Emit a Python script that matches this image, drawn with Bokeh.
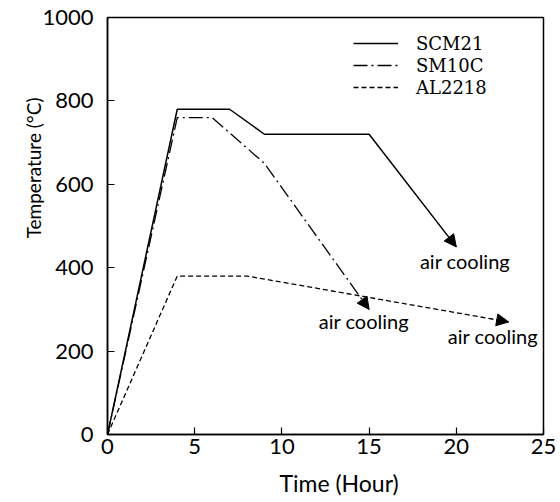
from bokeh.plotting import figure
from bokeh.models import Range1d, Legend, LegendItem, Arrow, NormalHead, Label, FixedTicker, Title
from bokeh.embed import file_html
from bokeh.resources import INLINE

# data (time in hours, temperature in deg C); last point of each = end of air-cooling arrow
scm21_t = [0, 4, 7, 9, 15, 20]
scm21_T = [0, 780, 780, 720, 720, 450]
sm10c_t = [0, 4, 6, 9, 15]
sm10c_T = [0, 760, 760, 650, 300]
al2218_t = [0, 4, 8, 23]
al2218_T = [0, 380, 380, 270]

series_names = ["SCM21", "SM10C", "AL2218"]
x_ticks = [0, 5, 10, 15, 20, 25]
y_ticks = [0, 200, 400, 600, 800, 1000]

note_text = ["air cooling", "air cooling", "air cooling"]
note_x = [20.5, 14.7, 22.1]
note_y = [415, 271, 237]

SANS = "Lato"
SERIF = "DejaVu Serif"

p = figure(frame_width=436, frame_height=417, output_backend="svg", toolbar_location=None,
           x_range=Range1d(0, 25), y_range=Range1d(0, 1000),
           min_border_left=107, min_border_right=16, min_border_top=17, min_border_bottom=67)
p.background_fill_color = "white"
p.border_fill_color = "white"
p.grid.visible = False
p.outline_line_color = "black"
p.outline_line_width = 1.5

for ax in (p.xaxis[0], p.yaxis[0]):
    ax.axis_line_color = "black"
    ax.axis_line_width = 1.5
    ax.major_tick_in = 7
    ax.major_tick_out = 0
    ax.major_tick_line_color = "black"
    ax.major_tick_line_width = 1.2
    ax.minor_tick_line_color = None
    ax.major_label_text_font = SANS
    ax.major_label_text_font_size = "22px"
    ax.major_label_text_color = "black"
p.xaxis.ticker = FixedTicker(ticks=x_ticks)
p.yaxis.ticker = FixedTicker(ticks=y_ticks)
p.xaxis.major_label_standoff = 4
p.yaxis.major_label_standoff = 14

r1 = p.line(scm21_t, scm21_T, line_color="black", line_width=1.5)
r2 = p.line(sm10c_t, sm10c_T, line_color="black", line_width=1.3, line_dash="14 4 2 4")
r3 = p.line(al2218_t, al2218_T, line_color="black", line_width=1.3, line_dash="5 3")

for t, T in ((scm21_t, scm21_T), (sm10c_t, sm10c_T), (al2218_t, al2218_T)):
    p.add_layout(Arrow(x_start=t[-2], y_start=T[-2], x_end=t[-1], y_end=T[-1],
                       line_alpha=0,
                       end=NormalHead(size=12, fill_color="black", line_color="black", line_width=1)))

for txt, x, y in zip(note_text, note_x, note_y):
    p.add_layout(Label(x=x, y=y, text=txt, text_align="center", text_baseline="middle",
                       text_font=SANS, text_font_size="20px", text_color="black"))

# axis titles
p.add_layout(Title(text="Time (Hour)", align="left", offset=172, standoff=21,
                   text_font=SANS, text_font_size="23px", text_font_style="normal",
                   text_color="black"), "below")
p.add_layout(Title(text="Temperature (°C)", align="right", offset=80, standoff=-10,
                   text_font=SANS, text_font_size="19px", text_font_style="normal",
                   text_color="black"), "left")

legend = Legend(items=[LegendItem(label=n, renderers=[r]) for n, r in zip(series_names, [r1, r2, r3])],
                location=(246, 336), padding=0, margin=0, spacing=0,
                glyph_width=45, glyph_height=22, label_height=22, label_standoff=18,
                label_text_font=SERIF, label_text_font_size="18px", label_text_color="black",
                border_line_color=None, background_fill_alpha=0)
p.add_layout(legend)

open("out.html", "w").write(file_html(p, INLINE))
